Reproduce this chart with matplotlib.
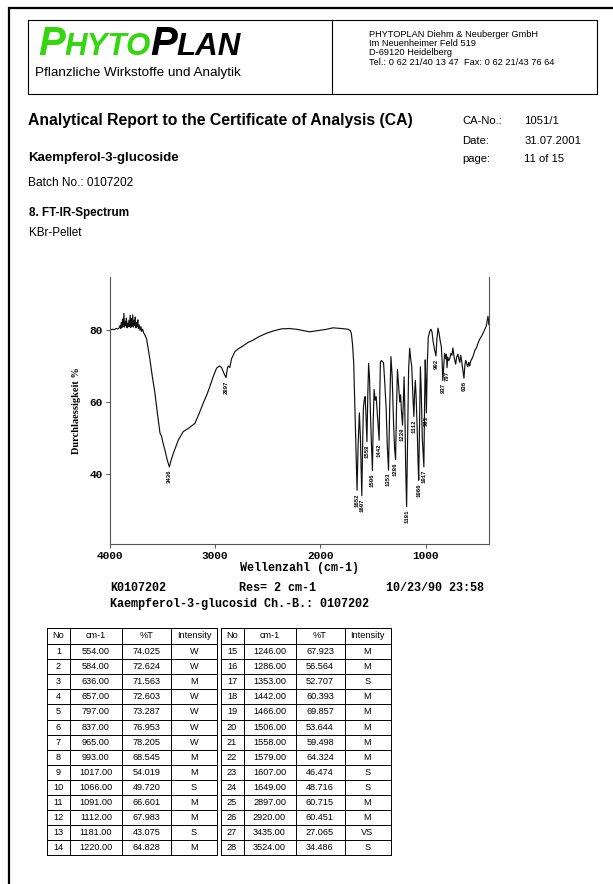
import numpy as np
import matplotlib
matplotlib.use("Agg")
import matplotlib.pyplot as plt

# FT-IR trace: wavenumber (cm-1) and transmission (%)
wavenumber = [4000, 3980, 3960, 3940, 3925, 3912, 3905, 3898, 3892, 3886, 3880, 3874, 3868, 3862,
              3856, 3850, 3844, 3838, 3832, 3826, 3820, 3814, 3808, 3802, 3796, 3790, 3784, 3778,
              3772, 3766, 3760, 3754, 3748, 3742, 3736, 3730, 3722, 3714, 3706, 3698, 3690, 3680,
              3668, 3652, 3636, 3620, 3600, 3573, 3550, 3525, 3510, 3495, 3478, 3455, 3436, 3420,
              3400, 3383, 3350, 3304, 3250, 3193, 3150, 3114, 3080, 3051, 3020, 2987, 2960, 2940,
              2925, 2910, 2897, 2885, 2877, 2861, 2845, 2813, 2780, 2734, 2690, 2640, 2580, 2512,
              2440, 2370, 2300, 2227, 2160, 2101, 2050, 2006, 1940, 1880, 1800, 1737, 1715, 1706,
              1695, 1684, 1672, 1660, 1652, 1642, 1630, 1620, 1607, 1598, 1592, 1584, 1575, 1568,
              1558, 1550, 1542, 1534, 1525, 1515, 1506, 1498, 1490, 1480, 1470, 1460, 1442, 1436,
              1430, 1420, 1412, 1400, 1388, 1375, 1365, 1353, 1342, 1330, 1318, 1305, 1295, 1286,
              1278, 1268, 1258, 1246, 1238, 1230, 1220, 1212, 1205, 1198, 1190, 1181, 1172, 1162,
              1152, 1142, 1132, 1122, 1112, 1105, 1098, 1090, 1080, 1072, 1066, 1058, 1050, 1042,
              1032, 1017, 1010, 1004, 999, 993, 985, 975, 962, 950, 940, 930, 915, 902, 893, 883,
              872, 862, 851, 843, 837, 829, 820, 810, 803, 797, 790, 780, 772, 760, 750, 741, 730,
              722, 715, 705, 693, 685, 675, 668, 661, 652, 645, 636, 628, 620, 613, 600, 590, 582,
              570, 560, 551, 530, 515, 503, 485, 470, 456, 440, 425, 415, 408, 402, 400]
transmission = [80.0, 80.2, 80.1, 80.4, 80.3, 80.6, 81.2, 80.4, 82.1, 80.7, 83.0, 80.9, 84.6, 80.8,
                82.4, 81.2, 83.3, 80.6, 81.9, 80.9, 82.7, 81.0, 84.1, 80.7, 83.2, 81.1, 84.2, 80.8,
                82.5, 81.3, 83.6, 80.6, 82.0, 80.9, 82.8, 80.4, 81.4, 79.9, 80.9, 79.6, 80.2, 79.2,
                78.6, 77.5, 74.5, 71.7, 67.5, 62.5, 57.0, 51.4, 50.5, 48.5, 46.7, 43.8, 42.0, 43.8,
                45.6, 46.9, 49.5, 51.8, 52.8, 54.1, 57.0, 59.7, 62.0, 64.3, 67.0, 69.4, 70.0, 69.6,
                68.5, 67.5, 66.8, 69.2, 70.0, 69.6, 72.0, 74.0, 74.8, 75.6, 76.5, 77.2, 78.2, 79.1,
                79.8, 80.3, 80.4, 80.2, 79.8, 79.5, 79.7, 79.9, 80.2, 80.6, 80.4, 80.2, 79.8, 79.0,
                76.0, 71.0, 58.0, 44.0, 35.5, 48.0, 57.0, 50.0, 34.0, 50.0, 58.2, 60.5, 61.5, 57.0,
                49.0, 62.0, 70.7, 67.0, 57.0, 48.0, 41.0, 55.0, 63.5, 60.5, 61.5, 57.0, 49.4, 62.0,
                71.2, 71.5, 71.3, 70.8, 65.0, 58.0, 48.0, 41.1, 58.0, 72.6, 67.0, 54.0, 47.0, 44.0,
                57.0, 69.0, 65.0, 60.0, 62.0, 57.5, 53.6, 60.0, 67.0, 58.0, 42.0, 31.0, 50.0, 69.0,
                74.9, 72.0, 69.8, 62.0, 56.0, 62.5, 66.0, 61.0, 52.0, 43.0, 38.3, 55.0, 69.8, 63.0,
                50.0, 42.0, 60.0, 71.7, 66.0, 57.0, 70.0, 78.0, 79.5, 80.2, 79.5, 77.0, 74.5, 72.8,
                77.5, 80.5, 79.0, 77.0, 75.4, 71.0, 66.0, 69.5, 73.5, 72.0, 73.3, 69.5, 72.5, 71.5,
                72.0, 73.5, 73.0, 75.0, 72.5, 71.5, 70.5, 72.5, 73.3, 72.0, 71.0, 73.0, 72.0, 70.0,
                68.5, 66.6, 70.0, 71.5, 71.0, 69.8, 71.0, 70.0, 71.5, 72.0, 72.6, 74.5, 75.2, 76.3,
                77.5, 78.2, 79.0, 80.0, 81.0, 82.5, 83.8, 82.7, 81.5]

peak_wn = [3436, 2897, 1652, 1607, 1558, 1506, 1442, 1353, 1286, 1220, 1181, 1112, 1066,
           1017, 993, 902, 837, 797, 636]

# peak table
tbl_no = list(range(1, 29))
tbl_cm = [554, 584, 636, 657, 797, 837, 965, 993, 1017, 1066, 1091, 1112, 1181, 1220,
          1246, 1286, 1353, 1442, 1466, 1506, 1558, 1579, 1607, 1649, 2897, 2920, 3435, 3524]
tbl_t = [74.025, 72.624, 71.563, 72.603, 73.287, 76.953, 78.205, 68.545, 54.019, 49.720,
         66.601, 67.983, 43.075, 64.828, 67.923, 56.564, 52.707, 60.393, 69.857, 53.644,
         59.498, 64.324, 46.474, 48.716, 60.715, 60.451, 27.065, 34.486]
tbl_int = ["W", "W", "M", "W", "W", "W", "W", "M", "M", "S", "M", "M", "S", "M",
           "M", "M", "S", "M", "M", "M", "M", "M", "S", "S", "M", "M", "VS", "S"]
tbl_head = ["No", "cm-1", "%T", "Intensity"]

W, H = 613, 884
fig = plt.figure(figsize=(W / 100, H / 100), dpi=100)
fig.patch.set_facecolor("white")

# page canvas in pixel units
pg = fig.add_axes([0, 0, 1, 1])
pg.set_xlim(0, W)
pg.set_ylim(H, 0)
pg.axis("off")

sans = "Liberation Sans"
mono = "Liberation Mono"

# page frame
pg.plot([8.5, 8.5, W], [H, 7.5, 7.5], color="black", lw=1.6, solid_joinstyle="miter")

# header box
pg.plot([28, 597, 597, 28, 28], [19.5, 19.5, 93.5, 93.5, 19.5], color="black", lw=0.8)
pg.plot([331.5, 331.5], [19.5, 93.5], color="black", lw=0.8)

# logo
fig.canvas.draw()
rend = fig.canvas.get_renderer()
x = 38
for s, size, col in [("P", 29, "#33d60f"), ("HYTO", 22.5, "#33d60f"),
                     ("P", 29, "black"), ("LAN", 22.5, "black")]:
    t = pg.text(x, 55, s, fontsize=size, color=col, fontweight="bold", style="italic",
                family=sans, va="baseline", ha="left")
    x += t.get_window_extent(rend).width - 0.5
pg.text(35, 73, "Pflanzliche Wirkstoffe und Analytik", fontsize=9.7, family=sans,
        va="center", ha="left")

addr = ["PHYTOPLAN Diehm & Neuberger GmbH", "Im Neuenheimer Feld 519", "D-69120 Heidelberg",
        "Tel.: 0 62 21/40 13 47  Fax: 0 62 21/43 76 64"]
for i, s in enumerate(addr):
    pg.text(369, 34.3 + i * 9.25, s, fontsize=6.7, family=sans, va="center", ha="left")

pg.text(28, 120.5, "Analytical Report to the Certificate of Analysis (CA)", fontsize=11.3,
        fontweight="bold", family=sans, va="center", ha="left")
for yy, k, v in [(120.5, "CA-No.:", "1051/1"), (141, "Date:", "31.07.2001"),
                 (159, "page:", "11 of 15")]:
    pg.text(462.5, yy, k, fontsize=8.1, family=sans, va="center", ha="left")
    pg.text(524.5, yy, v, fontsize=8.1, family=sans, va="center", ha="left")
pg.text(28, 158, "Kaempferol-3-glucoside", fontsize=9.5, fontweight="bold", family=sans,
        va="center", ha="left")
pg.text(28.5, 183, "Batch No.: 0107202", fontsize=8.6, family=sans, va="center", ha="left")
pg.text(29, 213, "8. FT-IR-Spectrum", fontsize=8.4, fontweight="bold", family=sans,
        va="center", ha="left")
pg.text(29, 233, "KBr-Pellet", fontsize=8.4, family=sans, va="center", ha="left")

# spectrum
ax = fig.add_axes([110 / W, 1 - 544 / H, 379 / W, 267 / H])
ax.plot(wavenumber, transmission, color="#111111", lw=0.85)
ax.set_xlim(4000, 398)
ax.set_ylim(20.6, 94.7)
for side in ["left", "right", "bottom"]:
    ax.spines[side].set_color("#555555")
    ax.spines[side].set_linewidth(0.8)
ax.spines["top"].set_visible(False)
ax.set_xticks([4000, 3000, 2000, 1000])
ax.set_yticks([40, 60, 80])
ax.tick_params(axis="both", direction="out", length=3, width=0.7, color="#555555",
               labelsize=8, pad=2)
for lab in ax.get_xticklabels() + ax.get_yticklabels():
    lab.set_family(mono)
    lab.set_fontweight("bold")
ax.set_xlabel("Wellenzahl (cm-1)", family=mono, fontweight="bold", fontsize=8.5, labelpad=1)
ax.set_ylabel("Durchlaessigkeit %", family="Liberation Serif", fontweight="bold", fontsize=7.5,
              labelpad=6)
ax.set_facecolor("none")

for p in peak_wn:
    tv = transmission[wavenumber.index(p)]
    ax.annotate(str(p), xy=(p, tv), xytext=(0, -2), textcoords="offset points", rotation=90,
                ha="center", va="top", fontsize=4.1, family=mono, fontweight="bold")

pg.text(110, 588, "K0107202", family=mono, fontweight="bold", fontsize=8.5, va="center")
pg.text(239, 588, "Res= 2 cm-1", family=mono, fontweight="bold", fontsize=8.5, va="center")
pg.text(386, 588, "10/23/90 23:58", family=mono, fontweight="bold", fontsize=8.5, va="center")
pg.text(110, 604.5, "Kaempferol-3-glucosid Ch.-B.: 0107202", family=mono, fontweight="bold",
        fontsize=8.5, va="center")

# peak table, two blocks of 14 rows
col_w = [23, 52, 49, 46]
top, head_h, row_h = 627.5, 16.5, 15.1
for b, x0 in enumerate([47, 220.5]):
    edges = np.concatenate([[x0], x0 + np.cumsum(col_w)])
    n = 14
    bottom = top + head_h + n * row_h
    for xe in edges:
        pg.plot([xe, xe], [top, bottom], color="black", lw=0.7)
    ys = [top, top + head_h] + [top + head_h + (r + 1) * row_h for r in range(n)]
    for ye in ys:
        pg.plot([edges[0], edges[-1]], [ye, ye], color="black", lw=0.7)
    cx = (edges[:-1] + edges[1:]) / 2
    for c, h in enumerate(tbl_head):
        pg.text(cx[c], top + head_h / 2, h, fontsize=6.6, family=sans, ha="center", va="center")
    for r in range(n):
        i = b * n + r
        yc = top + head_h + (r + 0.5) * row_h
        vals = [str(tbl_no[i]), f"{tbl_cm[i]:.2f}", f"{tbl_t[i]:.3f}", tbl_int[i]]
        for c, s in enumerate(vals):
            pg.text(cx[c], yc, s, fontsize=6.6, family=sans, ha="center", va="center")

fig.savefig("out.png", dpi=100)
